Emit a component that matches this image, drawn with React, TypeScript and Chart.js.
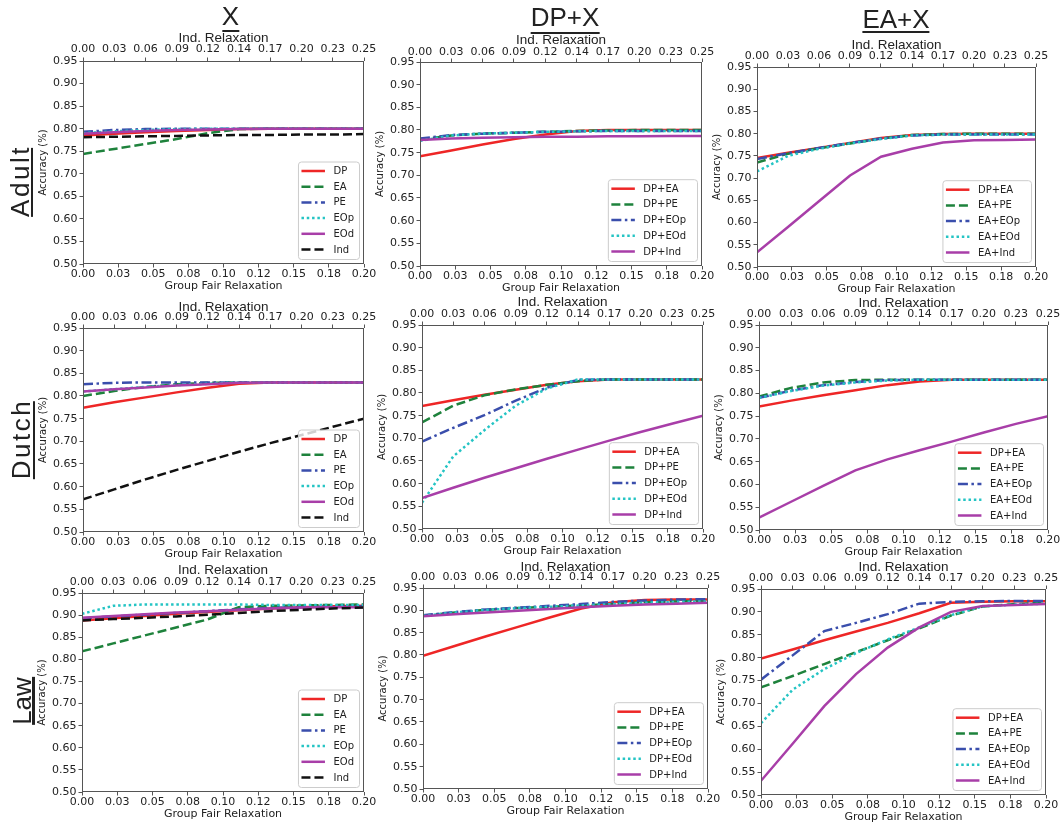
import React, { useEffect, useRef } from 'react';
import { Chart, registerables } from 'chart.js';

Chart.register(...registerables);

// ---------- shared axes ----------
const X_VALUES = [0, 0.0222, 0.0444, 0.0667, 0.0889, 0.1111, 0.1333, 0.1556, 0.1778, 0.2];
const BOTTOM_TICKS = [0, 0.025, 0.05, 0.075, 0.1, 0.125, 0.15, 0.175, 0.2];
const BOTTOM_TICK_LABELS = ['0.00', '0.03', '0.05', '0.08', '0.10', '0.12', '0.15', '0.18', '0.20'];
const TOP_TICKS = [0, 0.0278, 0.0556, 0.0833, 0.1111, 0.1389, 0.1667, 0.1944, 0.2222, 0.25];
const TOP_TICK_LABELS = ['0.00', '0.03', '0.06', '0.09', '0.12', '0.14', '0.17', '0.20', '0.23', '0.25'];
const Y_TICKS = [0.5, 0.55, 0.6, 0.65, 0.7, 0.75, 0.8, 0.85, 0.9, 0.95];
const Y_TICK_LABELS = ['0.50', '0.55', '0.60', '0.65', '0.70', '0.75', '0.80', '0.85', '0.90', '0.95'];

const ROW_LABELS = ['Adult', 'Dutch', 'Law'];
const COL_TITLES = ['X', 'DP+X', 'EA+X'];

const X_NAMES = ['DP', 'EA', 'PE', 'EOp', 'EOd', 'Ind'];
const DPX_NAMES = ['DP+EA', 'DP+PE', 'DP+EOp', 'DP+EOd', 'DP+Ind'];
const EAX_NAMES = ['DP+EA', 'EA+PE', 'EA+EOp', 'EA+EOd', 'EA+Ind'];

// ---------- Adult ----------
const ADULT_X_DP = [0.785, 0.789, 0.792, 0.795, 0.797, 0.799, 0.8, 0.8, 0.8, 0.8];
const ADULT_X_EA = [0.744, 0.755, 0.766, 0.777, 0.79, 0.799, 0.8, 0.8, 0.8, 0.8];
const ADULT_X_PE = [0.793, 0.797, 0.799, 0.8, 0.8, 0.8, 0.8, 0.8, 0.8, 0.8];
const ADULT_X_EOP = [0.79, 0.794, 0.797, 0.799, 0.8, 0.8, 0.8, 0.8, 0.8, 0.8];
const ADULT_X_EOD = [0.789, 0.792, 0.795, 0.797, 0.798, 0.799, 0.8, 0.8, 0.8, 0.8];
const ADULT_X_IND = [0.781, 0.782, 0.783, 0.784, 0.785, 0.786, 0.786, 0.787, 0.787, 0.788];

const ADULT_DP_EA = [0.742, 0.755, 0.768, 0.78, 0.79, 0.798, 0.8, 0.8, 0.8, 0.8];
const ADULT_DP_PE = [0.778, 0.788, 0.792, 0.794, 0.796, 0.798, 0.799, 0.8, 0.8, 0.8];
const ADULT_DP_EOP = [0.781, 0.789, 0.792, 0.794, 0.796, 0.797, 0.798, 0.798, 0.798, 0.798];
const ADULT_DP_EOD = [0.776, 0.788, 0.792, 0.794, 0.796, 0.797, 0.798, 0.798, 0.798, 0.798];
const ADULT_DP_IND = [0.778, 0.781, 0.783, 0.784, 0.785, 0.785, 0.786, 0.786, 0.787, 0.787];

const ADULT_EA_DP = [0.745, 0.757, 0.768, 0.779, 0.79, 0.797, 0.799, 0.8, 0.8, 0.8];
const ADULT_EA_PE = [0.735, 0.755, 0.767, 0.778, 0.789, 0.797, 0.799, 0.8, 0.8, 0.8];
const ADULT_EA_EOP = [0.743, 0.756, 0.768, 0.779, 0.789, 0.796, 0.798, 0.798, 0.798, 0.798];
const ADULT_EA_EOD = [0.715, 0.75, 0.766, 0.778, 0.788, 0.796, 0.798, 0.798, 0.798, 0.798];
const ADULT_EA_IND = [0.533, 0.59, 0.648, 0.706, 0.748, 0.766, 0.78, 0.785, 0.786, 0.787];

// ---------- Dutch ----------
const DUTCH_X_DP = [0.774, 0.786, 0.797, 0.808, 0.818, 0.827, 0.83, 0.83, 0.83, 0.83];
const DUTCH_X_EA = [0.8, 0.811, 0.82, 0.826, 0.829, 0.83, 0.83, 0.83, 0.83, 0.83];
const DUTCH_X_PE = [0.826, 0.829, 0.83, 0.83, 0.83, 0.83, 0.83, 0.83, 0.83, 0.83];
const DUTCH_X_EOP = [0.81, 0.815, 0.82, 0.824, 0.827, 0.83, 0.83, 0.83, 0.83, 0.83];
const DUTCH_X_EOD = [0.81, 0.815, 0.819, 0.823, 0.826, 0.829, 0.83, 0.83, 0.83, 0.83];
const DUTCH_X_IND = [0.572, 0.594, 0.616, 0.637, 0.657, 0.677, 0.696, 0.714, 0.732, 0.75];

const DUTCH_DP_EA = [0.771, 0.784, 0.796, 0.807, 0.818, 0.826, 0.83, 0.83, 0.83, 0.83];
const DUTCH_DP_PE = [0.735, 0.772, 0.795, 0.808, 0.818, 0.826, 0.83, 0.83, 0.83, 0.83];
const DUTCH_DP_EOP = [0.693, 0.723, 0.751, 0.783, 0.812, 0.829, 0.83, 0.83, 0.83, 0.83];
const DUTCH_DP_EOD = [0.558, 0.66, 0.718, 0.772, 0.81, 0.83, 0.83, 0.83, 0.83, 0.83];
const DUTCH_DP_IND = [0.568, 0.591, 0.613, 0.634, 0.655, 0.675, 0.695, 0.714, 0.732, 0.75];

const DUTCH_EA_DP = [0.771, 0.784, 0.796, 0.807, 0.818, 0.826, 0.83, 0.83, 0.83, 0.83];
const DUTCH_EA_PE = [0.793, 0.812, 0.824, 0.829, 0.83, 0.83, 0.83, 0.83, 0.83, 0.83];
const DUTCH_EA_EOP = [0.79, 0.806, 0.818, 0.825, 0.829, 0.83, 0.83, 0.83, 0.83, 0.83];
const DUTCH_EA_EOD = [0.79, 0.805, 0.817, 0.824, 0.828, 0.83, 0.83, 0.83, 0.83, 0.83];
const DUTCH_EA_IND = [0.527, 0.562, 0.597, 0.631, 0.655, 0.675, 0.694, 0.714, 0.733, 0.75];

// ---------- Law ----------
const LAW_X_DP = [0.888, 0.893, 0.898, 0.903, 0.907, 0.911, 0.915, 0.918, 0.92, 0.921];
const LAW_X_EA = [0.818, 0.836, 0.854, 0.872, 0.89, 0.918, 0.921, 0.922, 0.923, 0.924];
const LAW_X_PE = [0.893, 0.897, 0.901, 0.905, 0.909, 0.913, 0.916, 0.918, 0.919, 0.92];
const LAW_X_EOP = [0.903, 0.921, 0.924, 0.924, 0.924, 0.924, 0.923, 0.923, 0.923, 0.923];
const LAW_X_EOD = [0.894, 0.898, 0.902, 0.906, 0.909, 0.912, 0.915, 0.917, 0.918, 0.918];
const LAW_X_IND = [0.888, 0.891, 0.894, 0.897, 0.901, 0.905, 0.909, 0.912, 0.915, 0.917];

const LAW_DP_EA = [0.798, 0.82, 0.842, 0.863, 0.884, 0.904, 0.918, 0.923, 0.924, 0.924];
const LAW_DP_PE = [0.888, 0.895, 0.901, 0.905, 0.908, 0.911, 0.914, 0.918, 0.92, 0.921];
const LAW_DP_EOP = [0.889, 0.896, 0.902, 0.906, 0.91, 0.914, 0.919, 0.922, 0.924, 0.925];
const LAW_DP_EOD = [0.888, 0.895, 0.901, 0.905, 0.908, 0.911, 0.914, 0.917, 0.919, 0.92];
const LAW_DP_IND = [0.887, 0.891, 0.895, 0.899, 0.903, 0.907, 0.91, 0.913, 0.915, 0.917];

const LAW_EA_DP = [0.798, 0.818, 0.838, 0.857, 0.876, 0.897, 0.92, 0.922, 0.923, 0.923];
const LAW_EA_PE = [0.735, 0.76, 0.786, 0.812, 0.838, 0.864, 0.892, 0.912, 0.917, 0.92];
const LAW_EA_EOP = [0.752, 0.805, 0.858, 0.876, 0.895, 0.918, 0.922, 0.923, 0.924, 0.924];
const LAW_EA_EOD = [0.657, 0.73, 0.775, 0.81, 0.84, 0.866, 0.893, 0.912, 0.916, 0.918];
const LAW_EA_IND = [0.531, 0.612, 0.694, 0.764, 0.822, 0.866, 0.9, 0.913, 0.915, 0.917];

// ---------- styles ----------
type LineStyle = { color: string; dash: number[] };
const RED_SOLID: LineStyle = { color: 'rgb(238,38,38)', dash: [] };
const GREEN_DASHED: LineStyle = { color: 'rgb(30,130,60)', dash: [9, 4] };
const BLUE_DASHDOT: LineStyle = { color: 'rgb(58,78,172)', dash: [10, 3.5, 2.5, 3.5] };
const CYAN_DOTTED: LineStyle = { color: 'rgb(36,196,196)', dash: [2.5, 2.8] };
const PURPLE_SOLID: LineStyle = { color: 'rgb(168,62,168)', dash: [] };
const BLACK_DASHED: LineStyle = { color: '#111111', dash: [9, 4] };
const LINE_WIDTH = 2.5;

const X_STYLES = [RED_SOLID, GREEN_DASHED, BLUE_DASHDOT, CYAN_DOTTED, PURPLE_SOLID, BLACK_DASHED];
const PAIR_STYLES = [RED_SOLID, GREEN_DASHED, BLUE_DASHDOT, CYAN_DOTTED, PURPLE_SOLID];

type Panel = {
  area: { left: number; top: number; right: number; bottom: number };
  names: string[];
  series: number[][];
  styles: LineStyle[];
  legendRightPad: number;
  topTitleGap: number;
  topTickGap: number;
};

const PANELS: Panel[] = [
  { area: { left: 83, top: 61, right: 364, bottom: 264 }, names: X_NAMES, series: [ADULT_X_DP, ADULT_X_EA, ADULT_X_PE, ADULT_X_EOP, ADULT_X_EOD, ADULT_X_IND], styles: X_STYLES, legendRightPad: 5, topTitleGap: 23, topTickGap: 12 },
  { area: { left: 420, top: 62, right: 702, bottom: 266 }, names: DPX_NAMES, series: [ADULT_DP_EA, ADULT_DP_PE, ADULT_DP_EOP, ADULT_DP_EOD, ADULT_DP_IND], styles: PAIR_STYLES, legendRightPad: 11, topTitleGap: 21.5, topTickGap: 10 },
  { area: { left: 757, top: 67, right: 1036, bottom: 267 }, names: EAX_NAMES, series: [ADULT_EA_DP, ADULT_EA_PE, ADULT_EA_EOP, ADULT_EA_EOD, ADULT_EA_IND], styles: PAIR_STYLES, legendRightPad: 11, topTitleGap: 21.3, topTickGap: 11 },
  { area: { left: 83, top: 328, right: 364, bottom: 532 }, names: X_NAMES, series: [DUTCH_X_DP, DUTCH_X_EA, DUTCH_X_PE, DUTCH_X_EOP, DUTCH_X_EOD, DUTCH_X_IND], styles: X_STYLES, legendRightPad: 5, topTitleGap: 20.5, topTickGap: 10.5 },
  { area: { left: 422, top: 325, right: 703, bottom: 529 }, names: DPX_NAMES, series: [DUTCH_DP_EA, DUTCH_DP_PE, DUTCH_DP_EOP, DUTCH_DP_EOD, DUTCH_DP_IND], styles: PAIR_STYLES, legendRightPad: 11, topTitleGap: 22.5, topTickGap: 10.5 },
  { area: { left: 759, top: 325, right: 1048, bottom: 530 }, names: EAX_NAMES, series: [DUTCH_EA_DP, DUTCH_EA_PE, DUTCH_EA_EOP, DUTCH_EA_EOD, DUTCH_EA_IND], styles: PAIR_STYLES, legendRightPad: 11, topTitleGap: 21.5, topTickGap: 11.3 },
  { area: { left: 82, top: 593, right: 364, bottom: 792 }, names: X_NAMES, series: [LAW_X_DP, LAW_X_EA, LAW_X_PE, LAW_X_EOP, LAW_X_EOD, LAW_X_IND], styles: X_STYLES, legendRightPad: 5, topTitleGap: 22.5, topTickGap: 11 },
  { area: { left: 423, top: 588, right: 708, bottom: 789 }, names: DPX_NAMES, series: [LAW_DP_EA, LAW_DP_PE, LAW_DP_EOP, LAW_DP_EOD, LAW_DP_IND], styles: PAIR_STYLES, legendRightPad: 11, topTitleGap: 20.3, topTickGap: 10.5 },
  { area: { left: 761, top: 589, right: 1046, bottom: 795 }, names: EAX_NAMES, series: [LAW_EA_DP, LAW_EA_PE, LAW_EA_EOP, LAW_EA_EOD, LAW_EA_IND], styles: PAIR_STYLES, legendRightPad: 11, topTitleGap: 21.3, topTickGap: 11 },
];

// positions of the big labels (centre, underline offset)
const ROW_LABEL_POS = [
  { cx: 19.6, cy: 181, ul: 24.1, spacing: 2.5 },
  { cx: 21.3, cy: 439, ul: 25, spacing: 2.5 },
  { cx: 22.3, cy: 700.5, ul: 23.4, spacing: 0 },
];
const COL_TITLE_POS = [
  { cx: 230.5, top: 3.4, ul: 29.8 },
  { cx: 565, top: 3.6, ul: 32 },
  { cx: 896, top: 5.9, ul: 31.5 },
];

// ---------- axis box sizes ----------
const Y_AXIS_W = 50;
const TOP_AXIS_H = 34;
const BOTTOM_AXIS_H = 30;
const RIGHT_PAD = 18;
const TICK_LEN = 3.5;

const FONT = '"DejaVu Sans", sans-serif';
const BIG_FONT = '"Liberation Sans", sans-serif';
const TEXT = '#222222';
const SPINE = '#555555';

function PanelChart({ panel }: { panel: Panel }) {
  const ref = useRef<HTMLCanvasElement | null>(null);
  const { area } = panel;
  const w = Y_AXIS_W + (area.right - area.left) + RIGHT_PAD;
  const h = TOP_AXIS_H + (area.bottom - area.top) + BOTTOM_AXIS_H;

  useEffect(() => {
    if (!ref.current) return;
    const n = panel.series.length;
    const datasets = panel.series.map((ys, i) => ({
      label: panel.names[i],
      data: X_VALUES.map((x, j) => ({ x, y: ys[j] })),
      borderColor: panel.styles[i].color,
      backgroundColor: panel.styles[i].color,
      borderDash: panel.styles[i].dash,
      borderWidth: LINE_WIDTH,
      borderCapStyle: 'butt' as const,
      pointRadius: 0,
      tension: 0,
      fill: false,
      order: n - i,
    }));

    const framePlugin = {
      id: 'frameAndLegend',
      afterDatasetsDraw(chart: any) {
        const { ctx, chartArea } = chart;
        ctx.save();
        ctx.strokeStyle = SPINE;
        ctx.lineWidth = 1;
        const l = Math.round(chartArea.left) + 0.5;
        const t = Math.round(chartArea.top) + 0.5;
        const r = Math.round(chartArea.right) - 0.5;
        const b = Math.round(chartArea.bottom) - 0.5;
        ctx.strokeRect(l, t, r - l, b - t);

        // legend (lower right, inside plot)
        ctx.font = `10px ${FONT}`;
        const maxW = Math.max(...panel.names.map((s) => ctx.measureText(s).width));
        const rowH = 15.7;
        const bw = 3.5 + 23.5 + 8.5 + maxW + panel.legendRightPad;
        const bh = (n - 1) * rowH + 19;
        const x0 = chartArea.right - 5 - bw;
        const y0 = chartArea.bottom - 5 - bh;
        ctx.beginPath();
        if ((ctx as any).roundRect) (ctx as any).roundRect(x0 + 0.5, y0 + 0.5, bw, bh, 3);
        else ctx.rect(x0 + 0.5, y0 + 0.5, bw, bh);
        ctx.fillStyle = 'rgba(255,255,255,0.8)';
        ctx.fill();
        ctx.strokeStyle = '#cccccc';
        ctx.lineWidth = 1;
        ctx.stroke();
        for (let i = 0; i < n; i++) {
          const yy = y0 + 9.5 + i * rowH;
          const st = panel.styles[i];
          ctx.beginPath();
          ctx.setLineDash(st.dash);
          ctx.lineCap = 'butt';
          ctx.strokeStyle = st.color;
          ctx.lineWidth = LINE_WIDTH;
          ctx.moveTo(x0 + 3.5, yy);
          ctx.lineTo(x0 + 27, yy);
          ctx.stroke();
          ctx.setLineDash([]);
          ctx.fillStyle = TEXT;
          ctx.textBaseline = 'middle';
          ctx.textAlign = 'left';
          ctx.fillText(panel.names[i], x0 + 35.5, yy + 0.5);
        }
        ctx.restore();
      },
    };

    const tickGrid = { drawOnChartArea: false, drawTicks: true, tickLength: TICK_LEN, color: SPINE, lineWidth: 1 };
    const topTitlePad = Math.max(0, TOP_AXIS_H - panel.topTitleGap - 8.1);
    const topTickPad = Math.max(0, panel.topTickGap - TICK_LEN - 6.6);

    const chart = new Chart(ref.current, {
      type: 'line',
      data: { datasets },
      options: {
        animation: false,
        responsive: false,
        maintainAspectRatio: false,
        layout: { padding: { left: 0, top: 0, right: RIGHT_PAD, bottom: 0 } },
        plugins: { legend: { display: false }, tooltip: { enabled: false } },
        scales: {
          x: {
            type: 'linear',
            position: 'bottom',
            min: 0,
            max: 0.2,
            afterBuildTicks: (s: any) => {
              s.ticks = BOTTOM_TICKS.map((v) => ({ value: v }));
            },
            afterFit: (s: any) => {
              s.height = BOTTOM_AXIS_H;
            },
            ticks: {
              autoSkip: false,
              maxRotation: 0,
              padding: 0,
              color: TEXT,
              font: { family: FONT, size: 11 },
              callback: (_v: any, i: number) => BOTTOM_TICK_LABELS[i],
            },
            grid: tickGrid,
            border: { display: false },
            title: {
              display: true,
              text: 'Group Fair Relaxation',
              color: TEXT,
              font: { family: FONT, size: 11 },
              padding: { top: 0, bottom: 1 },
            },
          },
          x2: {
            type: 'linear',
            position: 'top',
            min: 0,
            max: 0.25,
            afterBuildTicks: (s: any) => {
              s.ticks = TOP_TICKS.map((v) => ({ value: v }));
            },
            afterFit: (s: any) => {
              s.height = TOP_AXIS_H;
            },
            ticks: {
              autoSkip: false,
              maxRotation: 0,
              padding: topTickPad,
              color: TEXT,
              font: { family: FONT, size: 11 },
              callback: (_v: any, i: number) => TOP_TICK_LABELS[i],
            },
            grid: tickGrid,
            border: { display: false },
            title: {
              display: true,
              text: 'Ind. Relaxation',
              color: TEXT,
              font: { family: BIG_FONT, size: 13.5 },
              padding: { top: topTitlePad, bottom: 0 },
            },
          },
          y: {
            type: 'linear',
            position: 'left',
            min: 0.5,
            max: 0.95,
            afterBuildTicks: (s: any) => {
              s.ticks = Y_TICKS.map((v) => ({ value: v }));
            },
            afterFit: (s: any) => {
              s.width = Y_AXIS_W;
            },
            ticks: {
              autoSkip: false,
              padding: 2,
              color: TEXT,
              font: { family: FONT, size: 11 },
              callback: (_v: any, i: number) => Y_TICK_LABELS[i],
            },
            grid: tickGrid,
            border: { display: false },
            title: {
              display: true,
              text: 'Accuracy (%)',
              color: TEXT,
              font: { family: FONT, size: 10 },
              padding: { top: 4, bottom: 0 },
            },
          },
        },
      } as any,
      plugins: [framePlugin],
    });
    return () => chart.destroy();
  }, [panel]);

  return (
    <canvas
      ref={ref}
      width={w}
      height={h}
      style={{
        position: 'absolute',
        left: area.left - Y_AXIS_W,
        top: area.top - TOP_AXIS_H,
        width: w,
        height: h,
      }}
    />
  );
}

export default function App() {
  return (
    <div
      style={{
        position: 'absolute',
        left: 0,
        top: 0,
        width: 1060,
        height: 824,
        overflow: 'hidden',
        background: '#ffffff',
      }}
    >
      {PANELS.map((p, i) => (
        <PanelChart key={i} panel={p} />
      ))}
      {COL_TITLES.map((t, i) => (
        <div
          key={'c' + i}
          style={{
            position: 'absolute',
            left: COL_TITLE_POS[i].cx,
            top: COL_TITLE_POS[i].top,
            transform: 'translateX(-50%)',
            fontFamily: BIG_FONT,
            fontSize: 26,
            lineHeight: '26px',
            height: 26,
            color: TEXT,
            whiteSpace: 'nowrap',
          }}
        >
          {t}
          <div
            style={{
              position: 'absolute',
              left: 0,
              right: 0,
              top: COL_TITLE_POS[i].ul - COL_TITLE_POS[i].top,
              height: 1.8,
              background: TEXT,
            }}
          />
        </div>
      ))}
      {ROW_LABELS.map((t, i) => (
        <div
          key={'r' + i}
          style={{
            position: 'absolute',
            left: ROW_LABEL_POS[i].cx,
            top: ROW_LABEL_POS[i].cy,
            transform: 'translate(-50%, -50%) rotate(-90deg)',
            fontFamily: BIG_FONT,
            fontSize: 26,
            lineHeight: '26px',
            height: 26,
            letterSpacing: ROW_LABEL_POS[i].spacing,
            color: TEXT,
            whiteSpace: 'nowrap',
          }}
        >
          {t}
          <div
            style={{
              position: 'absolute',
              left: 0,
              right: ROW_LABEL_POS[i].spacing,
              top: ROW_LABEL_POS[i].ul,
              height: 2.2,
              background: TEXT,
            }}
          />
        </div>
      ))}
    </div>
  );
}
